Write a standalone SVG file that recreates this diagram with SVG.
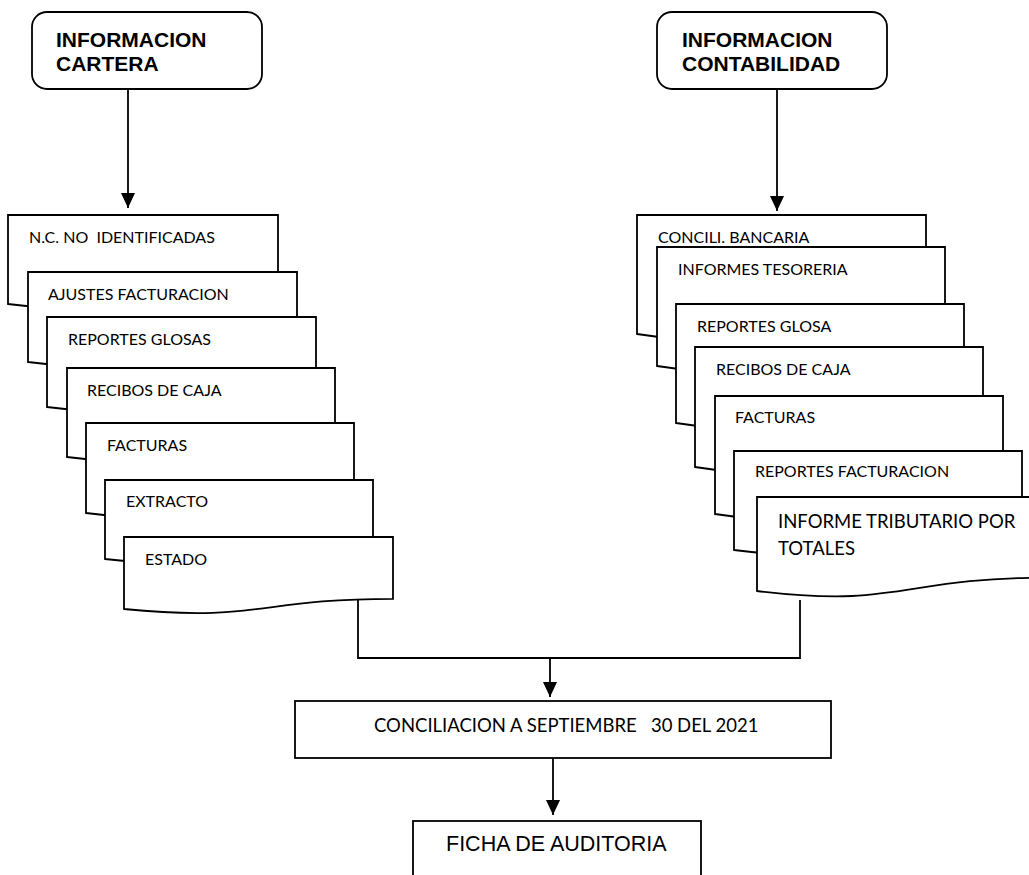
<svg xmlns="http://www.w3.org/2000/svg" width="1029" height="875" viewBox="0 0 1029 875">
<style>
.doc{fill:#fff;stroke:#000;stroke-width:1.8;stroke-linejoin:miter}
.box{fill:#fff;stroke:#000;stroke-width:1.8}
.lbl{font-family:Lato,"Liberation Sans",sans-serif;font-size:16px;fill:#000;white-space:pre}
.big{font-family:Lato,"Liberation Sans",sans-serif;font-size:18.5px;fill:#000;white-space:pre}
.hdr{font-family:"Liberation Sans",Arial,sans-serif;font-size:21px;font-weight:bold;fill:#000}
.ar{font-family:"Liberation Sans",Arial,sans-serif;font-size:21.5px;fill:#000}
.con{fill:none;stroke:#000;stroke-width:1.8}
</style>
<defs>
<marker id="ah" viewBox="0 0 15 14" refX="15" refY="7" markerWidth="15" markerHeight="14" markerUnits="userSpaceOnUse" orient="auto">
<path d="M0,0 L15,7 L0,14 Z" fill="#000"/>
</marker>
</defs>
<rect width="1029" height="875" fill="#fff"/>

<g id="info-cartera">
<rect class="box" x="32" y="12" width="230" height="77" rx="15" ry="15"/>
<text class="hdr" x="56" y="47">INFORMACION</text>
<text class="hdr" x="56" y="71">CARTERA</text>
</g>
<g id="info-contabilidad">
<rect class="box" x="657" y="12" width="230" height="77" rx="15" ry="15"/>
<text class="hdr" x="682" y="47">INFORMACION</text>
<text class="hdr" x="682" y="71">CONTABILIDAD</text>
</g>

<g id="left-stack">
<g id="l1"><path class="doc" d="M8,215 H278 V291.4 C143,291.4 143,320.5 8,304 Z"/><text class="lbl" x="29" y="243">N.C. NO  IDENTIFICADAS</text></g>
<g id="l2"><path class="doc" d="M28,272 H297 V349.3 C162.5,349.3 162.5,378.7 28,362 Z"/><text class="lbl" x="48" y="300">AJUSTES FACTURACION</text></g>
<g id="l3"><path class="doc" d="M47,317 H316 V394.3 C181.5,394.3 181.5,423.7 47,407 Z"/><text class="lbl" x="68" y="345">REPORTES GLOSAS</text></g>
<g id="l4"><path class="doc" d="M67,368 H335 V444.4 C201,444.4 201,473.5 67,457 Z"/><text class="lbl" x="87" y="396">RECIBOS DE CAJA</text></g>
<g id="l5"><path class="doc" d="M86,423 H354 V500.3 C220,500.3 220,529.7 86,513 Z"/><text class="lbl" x="107" y="451">FACTURAS</text></g>
<g id="l6"><path class="doc" d="M105,480 H373 V547.8 C239,547.8 239,573.7 105,559 Z"/><text class="lbl" x="126" y="507">EXTRACTO</text></g>
<g id="l7"><path class="doc" d="M124,537 H393 V598.8 C258.5,598.8 258.5,622.4 124,609 Z"/><text class="lbl" x="145" y="565">ESTADO</text></g>
</g>

<g id="right-stack">
<g id="r1"><path class="doc" d="M637,215 H926 V317.2 C781.5,317.2 781.5,356 637,334 Z"/><text class="lbl" x="658" y="243">CONCILI. BANCARIA</text></g>
<g id="r2"><path class="doc" d="M657,247 H945 V349.2 C801,349.2 801,388 657,366 Z"/><text class="lbl" x="678" y="275">INFORMES TESORERIA</text></g>
<g id="r3"><path class="doc" d="M676,304 H964 V406.2 C820,406.2 820,445 676,423 Z"/><text class="lbl" x="697" y="332">REPORTES GLOSA</text></g>
<g id="r4"><path class="doc" d="M695,347 H983 V450 C839,450 839,489.2 695,467 Z"/><text class="lbl" x="716" y="375">RECIBOS DE CAJA</text></g>
<g id="r5"><path class="doc" d="M715,396 H1003 V497.3 C859,497.3 859,535.8 715,514 Z"/><text class="lbl" x="735" y="423">FACTURAS</text></g>
<g id="r6"><path class="doc" d="M734,451 H1022 V536 C878,536 878,568.3 734,550 Z"/><text class="lbl" x="755" y="477">REPORTES FACTURACION</text></g>
<g id="r7"><path class="doc" d="M757,497 H1046 V577.7 C901.5,577.7 901.5,608.4 757,591 Z"/><text class="big" x="778" y="528">INFORME TRIBUTARIO POR</text><text class="big" x="778" y="555">TOTALES</text></g>
</g>

<g id="conciliacion">
<rect class="box" x="295" y="701" width="536" height="57"/>
<text class="big" x="374" y="732" font-size="18.8">CONCILIACION A SEPTIEMBRE   30 DEL 2021</text>
</g>
<g id="ficha">
<rect class="box" x="413" y="821" width="288" height="60"/>
<text class="ar" x="446" y="851">FICHA DE AUDITORIA</text>
</g>

<g id="connectors">
<line class="con" x1="128" y1="89" x2="128" y2="208" marker-end="url(#ah)"/>
<line class="con" x1="777" y1="89" x2="777" y2="211" marker-end="url(#ah)"/>
<polyline class="con" points="358,600 358,658 800,658 800,600"/>
<line class="con" x1="550" y1="658" x2="550" y2="697" marker-end="url(#ah)"/>
<line class="con" x1="553" y1="758" x2="553" y2="815" marker-end="url(#ah)"/>
</g>
</svg>
